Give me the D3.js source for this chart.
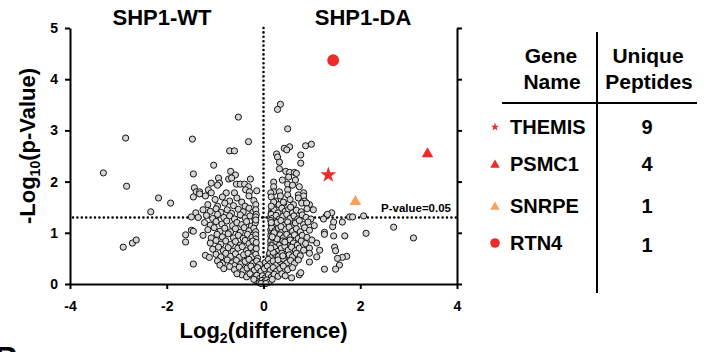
<!DOCTYPE html>
<html>
<head>
<meta charset="utf-8">
<script src="https://cdn.jsdelivr.net/npm/d3@7"></script>
<style>
  html, body { margin: 0; padding: 0; background: #fff; }
  svg { display: block; font-family: Arial, "Liberation Sans", sans-serif; font-weight: bold; }
</style>
</head>
<body>
<div id="chart"></div>
<script>
// log2(difference), -log10(p) for every detected protein
const bgPoints = [
  [-0.52,3.26],[0.35,3.51],[0.29,3.41],[0.5,3.03],
  [-2.85,2.85],[-1.47,2.83],[-0.31,2.78],[-0.7,2.6],[-0.6,2.6],[0.87,2.7],[0.99,2.73],[0.43,2.65],[0.54,2.68],[0.48,2.62],[0.77,2.52],[0.27,2.54],
  [-3.31,2.17],[-1.03,2.32],[-1.45,2.15],[-0.68,2.2],[-0.58,2.13],[-0.93,2.07],[-0.72,2.05],[-0.66,2.07],[-0.27,2.05],[0.29,2.48],[0.33,2.38],[0.77,2.36],
  [0.33,2.25],[0.46,2.2],[0.54,2.18],[0.64,2.18],[0.68,2.16],[0.39,2.03],[0.52,2.09],[0.66,2.03],
  [-2.83,1.91],[-1.08,1.97],[-0.91,1.97],[-0.95,1.93],[-0.56,1.95],[-0.48,1.95],[-0.39,1.95],[-0.31,1.9],[-0.14,1.82],[-1.43,1.88],[-1.39,1.8],[-1.32,1.8],
  [-1.14,1.84],[-1.08,1.78],[-0.77,1.78],[-0.6,1.78],[-0.37,1.84],[-0.29,1.8],[0.21,1.99],[0.21,1.9],[0.5,1.95],[0.6,1.93],[0.74,1.9],[0.83,1.78],[0.5,1.84],
  [0.21,1.8],[-1.45,1.7],[-1.32,1.76],[0.15,1.78],[0.33,1.8],[0.5,1.74],[0.72,1.74],[0.83,1.72],
  [-2.17,1.68],[-1.92,1.58],[-2.33,1.41],[-1.2,1.72],[-1.0,1.65],[-0.85,1.7],[-0.7,1.62],[-0.55,1.68],[-0.45,1.6],[-0.3,1.72],[-0.2,1.63],[-0.16,1.55],
  [-1.15,1.55],[-0.95,1.52],[-0.8,1.58],[-0.62,1.53],[-0.38,1.52],[0.16,1.7],[0.25,1.62],[0.35,1.72],[0.42,1.58],[0.55,1.65],[0.62,1.55],[0.72,1.68],
  [0.85,1.62],[0.18,1.52],[0.32,1.55],[0.95,1.55],[0.21,1.6],[0.41,1.6],[0.79,1.58],[0.89,1.58],[1.03,1.45],
  [-1.4,1.39],[-1.25,1.45],[-1.1,1.42],[-0.98,1.47],[-0.88,1.4],[-0.75,1.45],[-0.66,1.38],[-0.52,1.46],[-0.42,1.41],[-0.3,1.48],[-0.22,1.4],[-0.16,1.45],
  [-0.15,1.36],[0.17,1.44],[0.16,1.38],[0.22,1.45],[0.3,1.39],[0.38,1.48],[0.45,1.42],[0.52,1.46],[0.6,1.39],[0.68,1.44],[0.78,1.41],[0.9,1.47],[0.16,1.52],[0.56,1.5],
  [-1.49,1.31],[-1.35,1.3],[-1.18,1.34],[-1.05,1.28],[-0.95,1.36],[-0.82,1.3],[-0.7,1.33],[-0.6,1.27],[-0.48,1.35],[-0.38,1.29],[-0.28,1.33],[-0.18,1.27],
  [-0.16,1.31],[0.15,1.31],[0.16,1.36],[0.18,1.28],[0.26,1.34],[0.33,1.27],[0.4,1.32],[0.48,1.36],[0.55,1.28],[0.63,1.33],[0.71,1.27],[0.8,1.35],[0.88,1.3],
  [0.98,1.27],[1.3,1.33],[1.41,1.39],[1.78,1.31],[1.84,1.31],[2.07,1.33],[1.32,1.36],[1.24,1.27],
  [-1.22,1.2],[-1.1,1.15],[-0.98,1.22],[-0.86,1.17],[-0.76,1.23],[-0.64,1.14],[-0.55,1.2],[-0.45,1.16],[-0.35,1.22],[-0.25,1.13],[-0.17,1.19],[-0.16,1.25],
  [0.16,1.16],[0.15,1.24],[0.2,1.14],[0.28,1.2],[0.36,1.24],[0.43,1.15],[0.5,1.21],[0.58,1.13],[0.66,1.19],[0.74,1.24],[0.83,1.16],[0.92,1.21],[1.05,1.14],
  [1.63,1.21],[1.43,1.12],[1.45,1.21],
  [-1.49,1.05],[-1.45,1.03],[-1.15,1.06],[-1.02,1.1],[-0.9,1.03],[-0.8,1.09],[-0.68,1.02],[-0.58,1.08],[-0.48,1.01],[-0.4,1.1],[-0.3,1.04],[-0.2,1.09],
  [-0.16,1.02],[0.15,1.06],[0.16,0.99],[0.17,1.1],[0.24,1.04],[0.31,1.09],[0.38,1.02],[0.45,1.07],[0.53,1.11],[0.6,1.03],[0.68,1.08],[0.76,1.02],[0.85,1.1],
  [0.95,1.05],[1.26,1.01],[2.69,1.11],
  [-1.61,0.96],[-1.25,0.95],[-1.08,0.9],[-0.96,0.97],[-0.85,0.92],[-0.73,0.98],[-0.62,0.9],[-0.52,0.95],[-0.42,0.89],[-0.33,0.97],[-0.24,0.91],[-0.16,0.96],
  [-0.16,0.88],[0.15,0.94],[0.16,0.87],[0.2,0.98],[0.27,0.92],[0.34,0.96],[0.41,0.9],[0.48,0.97],[0.56,0.91],[0.64,0.96],[0.72,0.89],[0.8,0.95],[0.9,0.91],
  [1.45,0.94],[1.68,0.94],[2.12,0.99],[3.1,0.9],[1.26,0.97],
  [-2.9,0.72],[-2.71,0.8],[-2.63,0.86],
  [-1.61,0.82],[-1.1,0.8],[-0.98,0.85],[-0.88,0.78],[-0.78,0.84],[-0.68,0.77],[-0.58,0.83],[-0.48,0.76],[-0.38,0.85],[-0.3,0.79],[-0.22,0.84],[-0.16,0.74],
  [-0.15,0.81],[0.15,0.77],[0.15,0.84],[0.19,0.79],[0.26,0.83],[0.33,0.76],[0.4,0.84],[0.47,0.78],[0.55,0.86],[0.62,0.8],[0.7,0.76],[0.78,0.84],[0.87,0.79],
  [1.1,0.8],[1.0,0.86],
  [-1.05,0.68],[-0.93,0.72],[-0.83,0.65],[-0.73,0.71],[-0.63,0.64],[-0.53,0.7],[-0.44,0.73],[-0.35,0.65],[-0.26,0.71],[-0.18,0.64],[-0.15,0.69],[0.15,0.67],
  [0.17,0.75],[0.16,0.62],[0.23,0.71],[0.3,0.64],[0.37,0.7],[0.44,0.74],[0.51,0.66],[0.58,0.72],[0.66,0.65],[0.74,0.7],[0.83,0.66],[1.16,0.66],[1.47,0.72],
  [1.49,0.65],[0.95,0.7],
  [-1.2,0.56],[-1.12,0.52],[-0.98,0.58],[-0.88,0.53],[-0.78,0.6],[-0.68,0.54],[-0.58,0.59],[-0.5,0.52],[-0.41,0.57],[-0.32,0.6],[-0.24,0.53],[-0.16,0.58],
  [-0.12,0.5],[0.12,0.56],[0.13,0.6],[0.17,0.52],[0.24,0.58],[0.31,0.54],[0.38,0.6],[0.45,0.52],[0.53,0.57],[0.6,0.53],[0.68,0.6],[0.76,0.55],[0.95,0.6],
  [1.1,0.53],[1.72,0.54],[1.63,0.52],[1.53,0.5],
  [-1.45,0.39],[-0.95,0.45],[-0.85,0.4],[-0.75,0.47],[-0.65,0.41],[-0.56,0.46],[-0.47,0.39],[-0.38,0.44],[-0.3,0.48],[-0.22,0.4],[-0.14,0.45],[-0.08,0.38],
  [0.04,0.42],[0.1,0.48],[0.14,0.4],[0.2,0.45],[0.27,0.38],[0.34,0.44],[0.41,0.49],[0.48,0.41],[0.56,0.46],[0.64,0.4],[0.72,0.47],[0.95,0.43],[1.57,0.37],
  [-0.9,0.37],[-0.6,0.36],
  [-0.82,0.3],[-0.7,0.34],[-0.6,0.28],[-0.5,0.33],[-0.42,0.26],[-0.34,0.31],[-0.26,0.35],[-0.19,0.27],[-0.12,0.32],[-0.05,0.25],[0.02,0.3],[0.08,0.35],
  [0.14,0.27],[0.2,0.32],[0.27,0.25],[0.34,0.3],[0.41,0.35],[0.5,0.28],[0.6,0.32],[1.26,0.29],[1.49,0.29],
  [-0.45,0.18],[-0.35,0.14],[-0.28,0.2],[-0.2,0.12],[-0.14,0.17],[-0.08,0.11],[-0.02,0.16],[0.04,0.12],[0.1,0.18],[0.16,0.13],[0.22,0.19],[0.3,0.15],
  [0.38,0.2],[0.74,0.18],[0.58,0.12],[0.77,0.22],[-0.55,0.2],[0.45,0.16],
  [-0.15,0.06],[-0.08,0.03],[-0.03,0.07],[0.0,0.02],[0.03,0.05],[0.07,0.08],[0.12,0.04],[-0.05,0.01],[0.05,0.01],[0.18,0.09],[-0.2,0.09],
  [0.2,0.62],[0.28,0.88],[0.36,1.12],[0.15,0.7],[0.22,1.0],[0.4,0.55],[0.16,1.2],[0.3,0.47],[0.18,0.92],[0.44,0.82]
];

// highlighted hits
const genes = ["THEMIS", "PSMC1", "SNRPE", "RTN4"];
const geneX = [1.34, 3.39, 1.9, 1.44];
const geneY = [2.13, 2.54, 1.61, 4.37];
const peptides = [9, 4, 1, 1];
const geneShape = ["star", "triangle", "triangle", "circle"];
const geneColor = ["#ee2b2b", "#ee2b2b", "#f7a15c", "#ee2b2b"];

const xTicks = [-4, -2, 0, 2, 4];
const yTicks = [0, 1, 2, 3, 4, 5];
const pThreshold = 1.3; // -log10(0.05)

const width = 711, height = 352;
const svg = d3.select("#chart").append("svg")
  .attr("width", width)
  .attr("height", height);

const x = d3.scaleLinear().domain([-4, 4]).range([70, 457]);
const y = d3.scaleLinear().domain([0, 5]).range([284, 28]);

const symbolOf = { star: d3.symbolStar, triangle: d3.symbolTriangle, circle: d3.symbolCircle };
const plain = d => String(d); // keep ascii hyphen for negatives

// dotted guides
svg.append("line")
  .attr("x1", x(0)).attr("x2", x(0))
  .attr("y1", y(5)).attr("y2", y(0))
  .attr("stroke", "#000").attr("stroke-width", 2.6)
  .attr("stroke-linecap", "round").attr("stroke-dasharray", "0,4.4");

svg.append("line")
  .attr("x1", x(-4) + 3).attr("x2", x(4))
  .attr("y1", y(pThreshold)).attr("y2", y(pThreshold))
  .attr("stroke", "#000").attr("stroke-width", 2.6)
  .attr("stroke-linecap", "round").attr("stroke-dasharray", "0,4.4");

// background proteins
svg.append("g")
  .selectAll("circle")
  .data(bgPoints)
  .join("circle")
  .attr("cx", d => x(d[0]))
  .attr("cy", d => y(d[1]))
  .attr("r", 3.1)
  .attr("fill", "#d6d6d6")
  .attr("stroke", "#111")
  .attr("stroke-width", 1);

// hits
const hitSize = { star: 80, triangle: 58, circle: 110 };
svg.append("g")
  .selectAll("path")
  .data(genes)
  .join("path")
  .attr("transform", (d, i) => `translate(${x(geneX[i])},${y(geneY[i])})`)
  .attr("d", (d, i) => d3.symbol(symbolOf[geneShape[i]], hitSize[geneShape[i]])())
  .attr("fill", (d, i) => geneColor[i]);

// axes
const xAxis = svg.append("g")
  .attr("transform", `translate(0,${y(0)})`)
  .call(d3.axisBottom(x).tickValues(xTicks).tickFormat(plain).tickSize(5).tickSizeOuter(0).tickPadding(12));

const yAxis = svg.append("g")
  .attr("transform", `translate(${x(-4)},0)`)
  .call(d3.axisLeft(y).tickValues(yTicks).tickFormat(plain).tickSize(5).tickSizeOuter(0).tickPadding(7));

const yAxisR = svg.append("g")
  .attr("transform", `translate(${x(4)},0)`)
  .call(d3.axisRight(y).tickValues(yTicks).tickSize(5).tickSizeOuter(0).tickFormat(""));

[xAxis, yAxis, yAxisR].forEach(g => {
  g.select(".domain").attr("stroke-width", 2).attr("stroke", "#000");
  g.selectAll(".tick line").attr("stroke-width", 2).attr("stroke", "#000");
  g.selectAll(".tick text")
    .style("font-size", "14px").style("font-weight", "bold")
    .style("font-family", "Arial, 'Liberation Sans', sans-serif").attr("fill", "#000");
});

// labels
svg.append("text").attr("x", 162).attr("y", 25)
  .attr("text-anchor", "middle").attr("font-size", 22).text("SHP1-WT");
svg.append("text").attr("x", 363).attr("y", 25)
  .attr("text-anchor", "middle").attr("font-size", 22).text("SHP1-DA");

svg.append("text").attr("x", x(4) - 6).attr("y", y(pThreshold) - 5)
  .attr("text-anchor", "end").attr("font-size", 11.5).text("P-value=0.05");

const xl = svg.append("text").attr("x", x(0)).attr("y", 338)
  .attr("text-anchor", "middle").attr("font-size", 22);
xl.append("tspan").text("Log");
xl.append("tspan").attr("font-size", 14).attr("dy", 5).text("2");
xl.append("tspan").attr("dy", -5).text("(difference)");

const yl = svg.append("text")
  .attr("transform", `translate(35,146) rotate(-90)`)
  .attr("text-anchor", "middle").attr("font-size", 22);
yl.append("tspan").text("-Log");
yl.append("tspan").attr("font-size", 14).attr("dy", 5).text("10");
yl.append("tspan").attr("dy", -5).text("(p-Value)");

// table of hits
const tbl = svg.append("g");
tbl.append("line").attr("x1", 597).attr("x2", 597).attr("y1", 32).attr("y2", 293)
  .attr("stroke", "#000").attr("stroke-width", 2);
tbl.append("line").attr("x1", 502).attr("x2", 697).attr("y1", 103).attr("y2", 103)
  .attr("stroke", "#000").attr("stroke-width", 2);

const headFont = 21;
[["Gene", 551, 63], ["Name", 552, 89], ["Unique", 648, 63], ["Peptides", 649, 89]].forEach(h => {
  tbl.append("text").attr("x", h[1]).attr("y", h[2]).attr("text-anchor", "middle")
    .attr("font-size", headFont).text(h[0]);
});

const rowBase = [134, 171, 213, 250];
const rowSize = { star: 22, triangle: 40, circle: 72 };
genes.forEach((g, i) => {
  tbl.append("path")
    .attr("transform", `translate(495,${rowBase[i] - 7 + (geneShape[i] === "triangle" ? 1 : 0)})`)
    .attr("d", d3.symbol(symbolOf[geneShape[i]], rowSize[geneShape[i]])())
    .attr("fill", geneColor[i]);
  tbl.append("text").attr("x", 510).attr("y", rowBase[i])
    .attr("font-size", 20).text(g);
  tbl.append("text").attr("x", 647).attr("y", rowBase[i] + (i === 3 ? 2 : 0))
    .attr("text-anchor", "middle").attr("font-size", 20).text(peptides[i]);
});

// next panel letter, cut off by the crop
svg.append("text").attr("x", -5).attr("y", 369).attr("font-size", 32).text("B");
</script>
</body>
</html>
